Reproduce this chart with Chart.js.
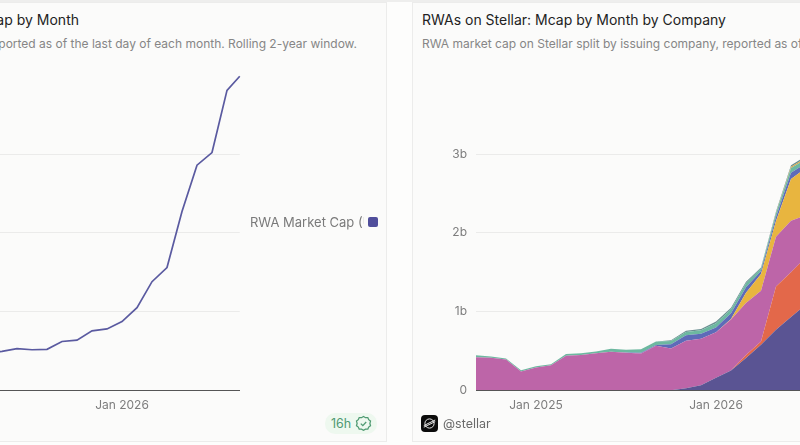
<!DOCTYPE html>
<html>
<head>
<meta charset="utf-8">
<script src="https://cdn.jsdelivr.net/npm/chart.js@4"></script>
<style>
  html, body { margin: 0; padding: 0; background: #fdfdfc; }
  body { width: 800px; height: 445px; overflow: hidden; position: relative; font-family: Inter, sans-serif; }
  .card { position: absolute; top: 2px; height: 438px; background: #fbfbfa; border: 1.5px solid #ececeb; box-sizing: content-box; }
  #topStrip { position: absolute; left: 0; top: 0; width: 800px; height: 2px; background: #eeeeed; }
  .title { position: absolute; top: 11px; font-size: 14px; font-weight: 400; color: #222; white-space: nowrap; }
  .sub { position: absolute; top: 36px; font-size: 12px; color: #868686; white-space: nowrap; }
  canvas { position: absolute; top: 60px; }
  #legendText { position: absolute; left: 250px; top: 214px; width: 114px; overflow: hidden; font-size: 13px; color: #7a7a7a; white-space: nowrap; }
  #legendSwatch { position: absolute; left: 368px; top: 217px; width: 10px; height: 10px; border-radius: 2px; background: #504e9b; }
  #badge { position: absolute; left: 325px; top: 413px; width: 52px; height: 21px; border-radius: 10px; background: #eef8ef; }
  #badge span { position: absolute; left: 6px; top: 3px; font-size: 12.5px; color: #4f9a72; }
  #badge svg { position: absolute; left: 30px; top: 2px; }
  #handle { position: absolute; left: 443px; top: 416px; font-size: 12.5px; color: #6a6a6a; }
  #logo { position: absolute; left: 421px; top: 415px; }
</style>
</head>
<body>
<div id="topStrip"></div>
<div class="card" style="left:-10px;width:394.5px"></div>
<div class="card" style="left:412px;width:400px"></div>

<div class="title" style="right:721px">RWAs on Stellar: Mcap by Month</div>
<div class="sub" style="right:443px">RWA market cap on Stellar, reported as of the last day of each month. Rolling 2-year window.</div>
<div class="title" style="left:422px">RWAs on Stellar: Mcap by Month by Company</div>
<div class="sub" style="left:422px">RWA market cap on Stellar split by issuing company, reported as of the last day of each month. Rolling 2-year window.</div>

<canvas id="totalChart" width="440" height="370" style="left:-181px"></canvas>
<canvas id="companyChart" width="440" height="370" style="left:413px"></canvas>

<div id="legendText">RWA Market Cap (USD)</div>
<div id="legendSwatch"></div>
<div id="badge"><span>16h</span>
  <svg width="17" height="17" viewBox="0 0 17 17" fill="none" stroke="#4f9a72" stroke-width="1.3">
    <path d="M8.5 1.5l2 1.2 2.3-.1.9 2.1 1.8 1.4-.6 2.3.6 2.3-1.8 1.4-.9 2.1-2.3-.1-2 1.2-2-1.2-2.3.1-.9-2.1-1.8-1.4.6-2.3-.6-2.3 1.8-1.4.9-2.1 2.3.1z"/>
    <path d="M5.8 8.6l2 2 3.4-3.6"/>
  </svg>
</div>
<svg id="logo" width="17" height="17" viewBox="0 0 17 17">
  <rect width="17" height="17" rx="4" fill="#0b0b0b"/>
  <circle cx="8.5" cy="8.5" r="4.6" fill="none" stroke="#e8e8e8" stroke-width="1"/>
  <path d="M2.8 10.6L14.2 5M2.8 12.2L14.2 6.6" stroke="#e8e8e8" stroke-width="1"/>
</svg>
<div id="handle">@stellar</div>

<script>
const monthLabels = ['Sep 2024', 'Oct 2024', 'Nov 2024', 'Dec 2024', 'Jan 2025', 'Feb 2025', 'Mar 2025', 'Apr 2025', 'May 2025', 'Jun 2025', 'Jul 2025', 'Aug 2025', 'Sep 2025', 'Oct 2025', 'Nov 2025', 'Dec 2025', 'Jan 2026', 'Feb 2026', 'Mar 2026', 'Apr 2026', 'May 2026', 'Jun 2026', 'Jul 2026', 'Aug 2026', 'Sep 2026'];
// the last row is a part month, so it sits a bit short of a full step
const monthPos = [0, 1, 2, 3, 4, 5, 6, 7, 8, 9, 10, 11, 12, 13, 14, 15, 16, 17, 18, 19, 20, 21, 22, 23, 23.85];
const yearTicks = [4, 16];
const valueTicks = [0, 1, 2, 3];

// all values in billions
const totalCap = [0.445, 0.43, 0.405, 0.255, 0.305, 0.332, 0.46, 0.47, 0.494, 0.53, 0.515, 0.52, 0.62, 0.637, 0.755, 0.78, 0.873, 1.05, 1.38, 1.56, 2.27, 2.86, 3.02, 3.81, 3.99];

const navyCap = [0, 0, 0, 0, 0, 0, 0, 0, 0, 0, 0, 0, 0, 0.002, 0.025, 0.063, 0.16, 0.253, 0.41, 0.58, 0.77, 0.93, 1.09, 1.24, 1.37];
const orangeCap = [0, 0, 0, 0, 0, 0, 0, 0, 0, 0, 0, 0, 0, 0, 0, 0, 0, 0, 0.04, 0.04, 0.55, 0.57, 0.6, 0.65, 0.68];
const pinkCap = [0.42, 0.413, 0.39, 0.24, 0.29, 0.317, 0.44, 0.45, 0.47, 0.489, 0.476, 0.468, 0.565, 0.528, 0.605, 0.591, 0.578, 0.647, 0.66, 0.646, 0.63, 0.655, 0.535, 0.7, 0.7];
const yellowCap = [0, 0, 0, 0, 0, 0, 0, 0, 0, 0, 0, 0, 0, 0, 0, 0, 0, 0.005, 0.13, 0.21, 0.2, 0.53, 0.6, 1.05, 1.07];
const blueCap = [0, 0, 0, 0, 0, 0, 0, 0, 0, 0, 0.005, 0.01, 0.01, 0.055, 0.07, 0.065, 0.06, 0.075, 0.07, 0.04, 0.05, 0.08, 0.06, 0.07, 0.07];
const tealCap = [0.025, 0.017, 0.015, 0.015, 0.015, 0.015, 0.02, 0.02, 0.024, 0.04, 0.035, 0.042, 0.045, 0.04, 0.04, 0.045, 0.055, 0.05, 0.05, 0.03, 0.05, 0.06, 0.05, 0.06, 0.06];
const goldCap = [0, 0, 0, 0, 0, 0, 0, 0, 0, 0, 0, 0, 0, 0, 0, 0, 0, 0, 0, 0, 0.005, 0.015, 0.02, 0.02, 0.02];
const slateCap = [0, 0, 0, 0, 0, 0, 0, 0, 0, 0, 0, 0, 0, 0.012, 0.015, 0.016, 0.02, 0.02, 0.02, 0.013, 0.015, 0.02, 0.02, 0.02, 0.02];

const companySeries = [
    { label: 'Company A', values: navyCap, color: '#5a5493' },
    { label: 'Company B', values: orangeCap, color: '#e3684a' },
    { label: 'Company C', values: pinkCap, color: '#bd65a8' },
    { label: 'Company D', values: yellowCap, color: '#e8b53f' },
    { label: 'Company E', values: blueCap, color: '#5e6bb8' },
    { label: 'Company F', values: tealCap, color: '#6db8a0' },
    { label: 'Company G', values: goldCap, color: '#d9a84a' },
    { label: 'Company H', values: slateCap, color: '#6a8f92' }
];

function toPoints(values) {
    return values.map((v, i) => ({ x: monthPos[i], y: v }));
}

function chartOptions(stacked) {
    return {
        responsive: false,
        animation: false,
        layout: { padding: { top: 15, right: 19.25, left: 0, bottom: 0 } },
        plugins: { legend: { display: false }, tooltip: { enabled: false } },
        elements: { point: { radius: 0 }, line: { tension: 0 } },
        scales: {
            x: {
                type: 'linear',
                min: 0,
                max: 23.85,
                afterFit: scale => { scale.height = 39.7; },
                afterBuildTicks: scale => { scale.ticks = yearTicks.map(v => ({ value: v })); },
                grid: { display: false, drawTicks: false },
                border: { display: true, color: '#555', width: 1 },
                ticks: {
                    autoSkip: false,
                    maxRotation: 0,
                    padding: 8,
                    color: '#7d7d7d',
                    font: { family: 'Inter', size: 12 },
                    callback: v => monthLabels[v]
                }
            },
            y: {
                stacked: stacked,
                min: 0,
                max: 3.99,
                afterFit: scale => { scale.width = 63; },
                afterBuildTicks: scale => { scale.ticks = valueTicks.map(v => ({ value: v })); },
                grid: { color: '#ebebea', lineWidth: 1, drawTicks: false },
                border: { display: false },
                ticks: {
                    padding: 9,
                    color: '#7d7d7d',
                    font: { family: 'Inter', size: 12 },
                    callback: v => (v === 0 ? '0' : v + 'b')
                }
            }
        }
    };
}

new Chart(document.getElementById('totalChart'), {
    type: 'line',
    data: {
        datasets: [{
            label: 'RWA Market Cap (USD)',
            data: toPoints(totalCap),
            borderColor: '#5a5aa0',
            borderWidth: 1.7,
            fill: false,
            clip: false
        }]
    },
    options: chartOptions(false)
});

new Chart(document.getElementById('companyChart'), {
    type: 'line',
    data: {
        datasets: companySeries.map((s, i) => ({
            label: s.label,
            data: toPoints(s.values),
            backgroundColor: s.color,
            borderWidth: 0,
            fill: i === 0 ? 'origin' : '-1'
        }))
    },
    options: chartOptions(true)
});
</script>
</body>
</html>
